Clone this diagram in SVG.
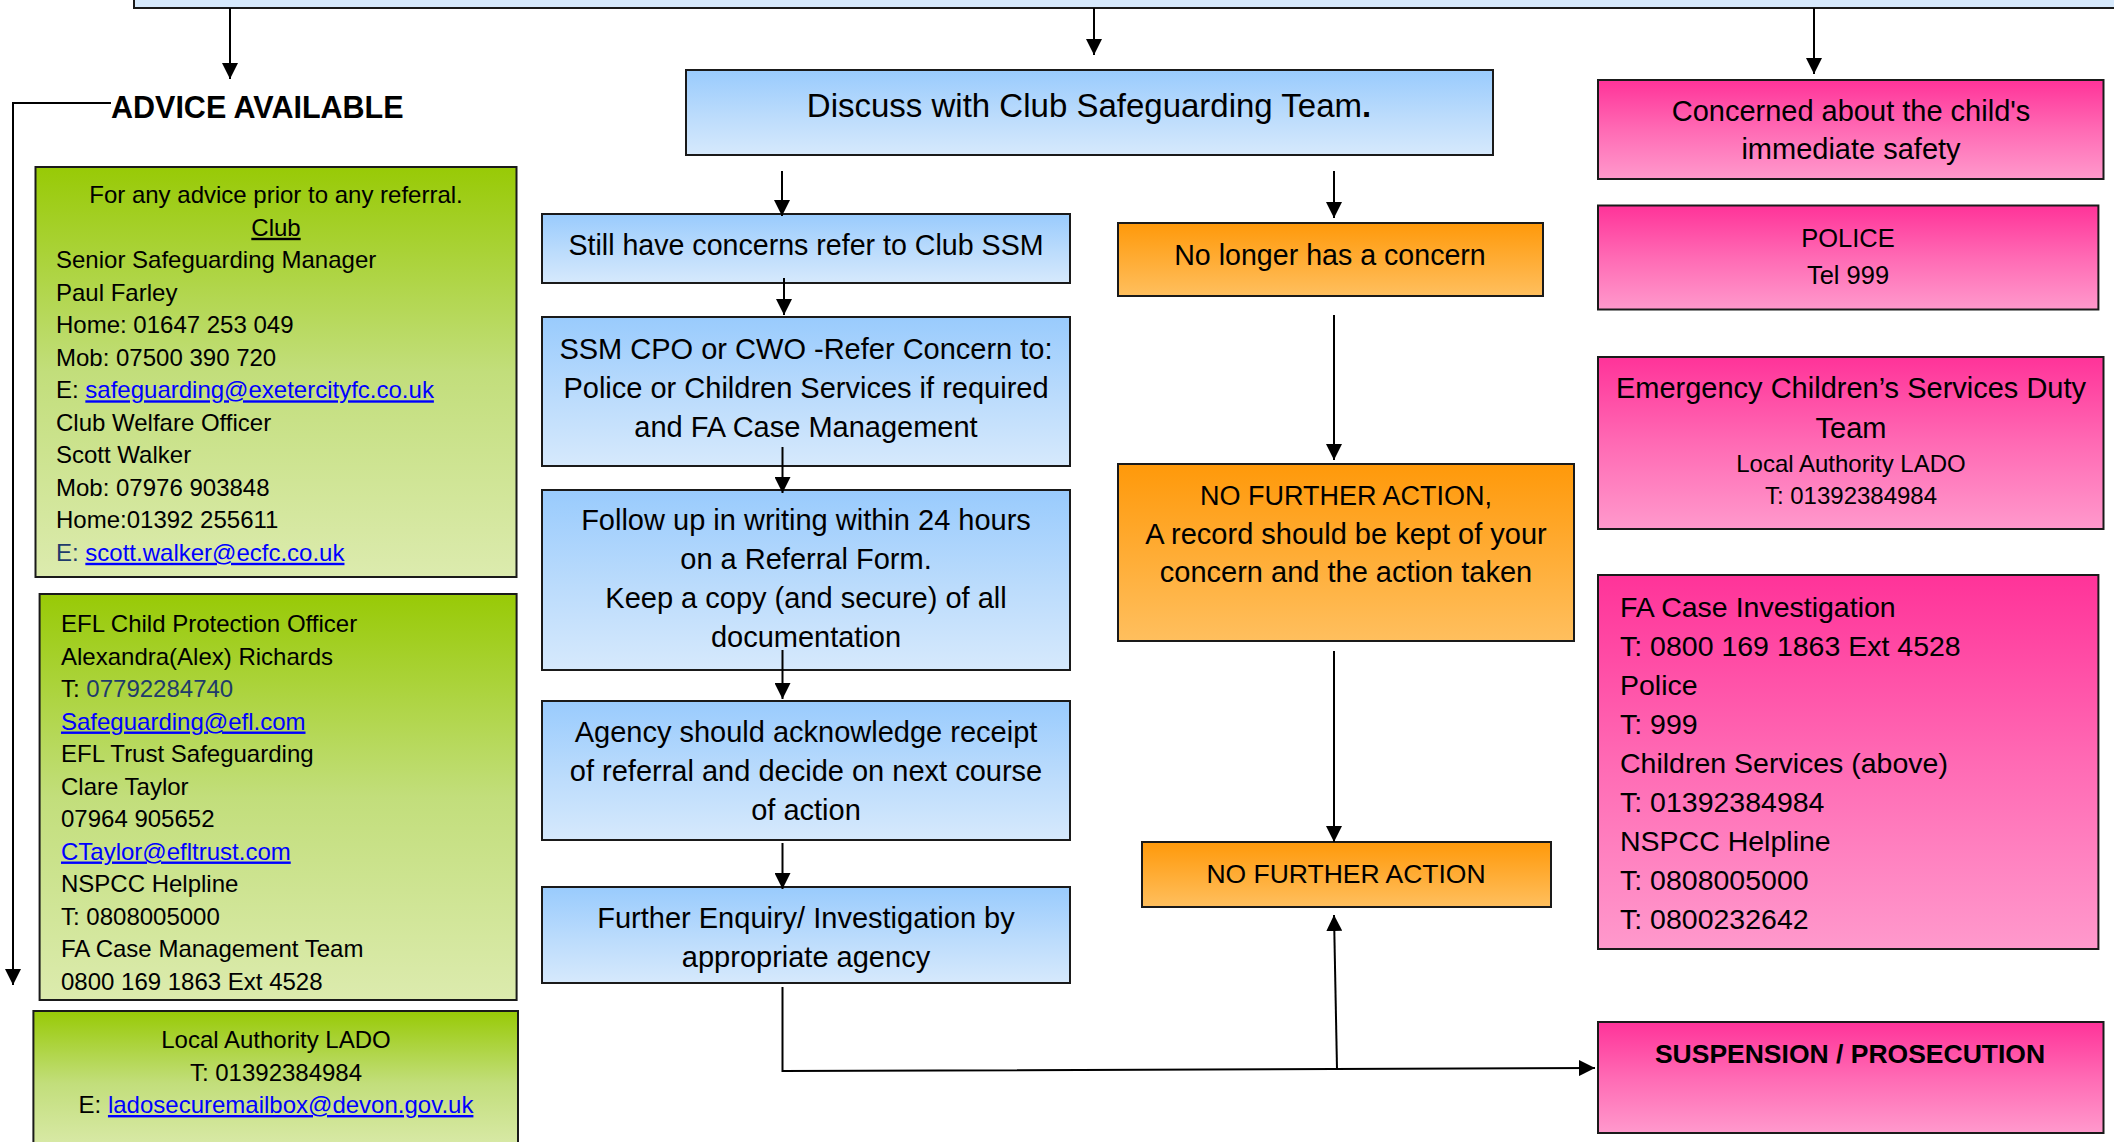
<svg xmlns="http://www.w3.org/2000/svg" width="2114" height="1142" viewBox="0 0 2114 1142">
<defs>
<linearGradient id="gGreen" x1="0" y1="0" x2="0" y2="1"><stop offset="0" stop-color="#98ca06"/><stop offset="0.5" stop-color="#c2de7b"/><stop offset="1" stop-color="#dcebae"/></linearGradient>
<linearGradient id="gBlue" x1="0" y1="0" x2="0" y2="1"><stop offset="0" stop-color="#99cbfd"/><stop offset="0.55" stop-color="#bcdcfc"/><stop offset="1" stop-color="#d6e9fc"/></linearGradient>
<linearGradient id="gOrange" x1="0" y1="0" x2="0" y2="1"><stop offset="0" stop-color="#ff990a"/><stop offset="1" stop-color="#ffbf5e"/></linearGradient>
<linearGradient id="gPink" x1="0" y1="0" x2="0" y2="1"><stop offset="0" stop-color="#ff3399"/><stop offset="0.5" stop-color="#ff6ab4"/><stop offset="1" stop-color="#ff99cc"/></linearGradient>
<marker id="ah" markerUnits="userSpaceOnUse" markerWidth="16" markerHeight="16" refX="16" refY="8" orient="auto"><path d="M0,0 L16,8 L0,16 z" fill="#000"/></marker>
</defs>
<style>
.box{stroke:#1a1a1a;stroke-width:2}
.green{fill:url(#gGreen)}
.blue{fill:url(#gBlue)}
.orange{fill:url(#gOrange)}
.pink{fill:url(#gPink)}
text{font-family:"Liberation Sans",Arial,sans-serif;fill:#000}
.b{font-size:24px}
.l{font-size:29px}
.c{text-anchor:middle}
.lnk{fill:#0000ff;text-decoration:underline}
.dk{fill:#1f3b6b}
.conn{fill:none;stroke:#000;stroke-width:2}
</style>

<g id="top-box"><rect class="box" x="134" y="-20" width="2000" height="28" fill="#d6e9fc"/></g>

<g id="advice-title"><text x="111" y="118" font-size="30.5" font-weight="bold">ADVICE AVAILABLE</text></g>

<g id="club-advice">
<rect class="box green" x="35.5" y="167" width="481" height="410"/>
<text class="b c" x="276" y="203.3">For any advice prior to any referral.</text>
<text class="b c" x="276" y="235.8" text-decoration="underline">Club</text>
<text class="b" x="56" y="268.3">Senior Safeguarding Manager</text>
<text class="b" x="56" y="300.8">Paul Farley</text>
<text class="b" x="56" y="333.3">Home: 01647 253 049</text>
<text class="b" x="56" y="365.8">Mob: 07500 390 720</text>
<text class="b" x="56" y="398.3">E: <tspan class="lnk">safeguarding@exetercityfc.co.uk</tspan></text>
<text class="b" x="56" y="430.8">Club Welfare Officer</text>
<text class="b" x="56" y="463.3">Scott Walker</text>
<text class="b" x="56" y="495.8">Mob: 07976 903848</text>
<text class="b" x="56" y="528.3">Home:01392 255611</text>
<text class="b" x="56" y="560.8"><tspan class="dk">E: </tspan><tspan class="lnk">scott.walker@ecfc.co.uk</tspan></text>
</g>

<g id="efl-advice">
<rect class="box green" x="39.6" y="594" width="477" height="406"/>
<text class="b" x="61" y="632">EFL Child Protection Officer</text>
<text class="b" x="61" y="664.5">Alexandra(Alex) Richards</text>
<text class="b" x="61" y="697">T: <tspan class="dk">07792284740</tspan></text>
<text class="b lnk" x="61" y="729.5">Safeguarding@efl.com</text>
<text class="b" x="61" y="762">EFL Trust Safeguarding</text>
<text class="b" x="61" y="794.5">Clare Taylor</text>
<text class="b" x="61" y="827">07964 905652</text>
<text class="b lnk" x="61" y="859.5">CTaylor@efltrust.com</text>
<text class="b" x="61" y="892">NSPCC Helpline</text>
<text class="b" x="61" y="924.5">T: 0808005000</text>
<text class="b" x="61" y="957">FA Case Management Team</text>
<text class="b" x="61" y="989.5">0800 169 1863 Ext 4528</text>
</g>

<g id="lado-advice">
<rect class="box green" x="33.4" y="1011" width="484.6" height="145"/>
<text class="b c" x="276" y="1048">Local Authority LADO</text>
<text class="b c" x="276" y="1080.5">T: 01392384984</text>
<text class="b c" x="276" y="1113">E: <tspan class="lnk">ladosecuremailbox@devon.gov.uk</tspan></text>
</g>

<g id="discuss">
<rect class="box blue" x="686" y="70" width="807" height="85"/>
<text class="c" x="1089" y="116.7" font-size="33">Discuss with Club Safeguarding Team<tspan font-weight="bold">.</tspan></text>
</g>

<g id="still-concerns">
<rect class="box blue" x="542" y="214" width="528" height="69"/>
<text class="c" x="806" y="255" font-size="28.6">Still have concerns refer to Club SSM</text>
</g>

<g id="ssm-refer">
<rect class="box blue" x="542" y="317" width="528" height="149"/>
<text class="l c" x="806" y="359">SSM CPO or CWO -Refer Concern to:</text>
<text class="l c" x="806" y="398">Police or Children Services if required</text>
<text class="l c" x="806" y="437">and FA Case Management</text>
</g>

<g id="follow-up">
<rect class="box blue" x="542" y="490" width="528" height="180"/>
<text class="l c" x="806" y="530">Follow up in writing within 24 hours</text>
<text class="l c" x="806" y="569">on a Referral Form.</text>
<text class="l c" x="806" y="608">Keep a copy (and secure) of all</text>
<text class="l c" x="806" y="647">documentation</text>
</g>

<g id="agency">
<rect class="box blue" x="542" y="701" width="528" height="139"/>
<text class="l c" x="806" y="742">Agency should acknowledge receipt</text>
<text class="l c" x="806" y="781">of referral and decide on next course</text>
<text class="l c" x="806" y="820">of action</text>
</g>

<g id="further-enquiry">
<rect class="box blue" x="542" y="887" width="528" height="96"/>
<text class="l c" x="806" y="928">Further Enquiry/ Investigation by</text>
<text class="l c" x="806" y="967">appropriate agency</text>
</g>

<g id="no-longer">
<rect class="box orange" x="1118" y="223" width="425" height="73"/>
<text class="c" x="1330" y="265" font-size="28.6">No longer has a concern</text>
</g>

<g id="nfa-record">
<rect class="box orange" x="1118" y="464" width="456" height="177"/>
<text class="c" x="1346" y="505" font-size="27">NO FURTHER ACTION,</text>
<text class="l c" x="1346" y="544">A record should be kept of your</text>
<text class="l c" x="1346" y="582">concern and the action taken</text>
</g>

<g id="nfa">
<rect class="box orange" x="1142" y="842" width="409" height="65"/>
<text class="c" x="1346" y="883" font-size="26.5">NO FURTHER ACTION</text>
</g>

<g id="immediate-safety">
<rect class="box pink" x="1598" y="80" width="505.5" height="99"/>
<text class="l c" x="1851" y="120.5">Concerned about the child's</text>
<text class="l c" x="1851" y="159">immediate safety</text>
</g>

<g id="police">
<rect class="box pink" x="1598" y="205.5" width="500.4" height="104"/>
<text class="c" x="1848" y="246.5" font-size="25.5">POLICE</text>
<text class="c" x="1848" y="284" font-size="25.5">Tel 999</text>
</g>

<g id="emergency">
<rect class="box pink" x="1598" y="357" width="505.5" height="172"/>
<text class="l c" x="1851" y="398">Emergency Children’s Services Duty</text>
<text class="l c" x="1851" y="437.5">Team</text>
<text class="b c" x="1851" y="472">Local Authority LADO</text>
<text class="b c" x="1851" y="504">T: 01392384984</text>
</g>

<g id="fa-case">
<rect class="box pink" x="1598" y="575" width="500.4" height="374"/>
<text font-size="28.5" x="1620" y="617">FA Case Investigation</text>
<text font-size="28.5" x="1620" y="656">T: 0800 169 1863 Ext 4528</text>
<text font-size="28.5" x="1620" y="695">Police</text>
<text font-size="28.5" x="1620" y="734">T: 999</text>
<text font-size="28.5" x="1620" y="773">Children Services (above)</text>
<text font-size="28.5" x="1620" y="812">T: 01392384984</text>
<text font-size="28.5" x="1620" y="851">NSPCC Helpline</text>
<text font-size="28.5" x="1620" y="890">T: 0808005000</text>
<text font-size="28.5" x="1620" y="928.5">T: 0800232642</text>
</g>

<g id="suspension">
<rect class="box pink" x="1598" y="1022" width="505.5" height="111"/>
<text class="c" x="1850" y="1063" font-size="26.5" font-weight="bold">SUSPENSION / PROSECUTION</text>
</g>

<g id="connectors">
<path class="conn" d="M230,8 V79" marker-end="url(#ah)"/>
<path class="conn" d="M1094,8 V55" marker-end="url(#ah)"/>
<path class="conn" d="M1814,8 V74" marker-end="url(#ah)"/>
<path class="conn" d="M111,103 H13 V985" marker-end="url(#ah)"/>
<path class="conn" d="M782,171 V216" marker-end="url(#ah)"/>
<path class="conn" d="M1334,171 V218" marker-end="url(#ah)"/>
<path class="conn" d="M784,278 V315" marker-end="url(#ah)"/>
<path class="conn" d="M782.5,447 V493" marker-end="url(#ah)"/>
<path class="conn" d="M782.5,650 V699" marker-end="url(#ah)"/>
<path class="conn" d="M782.5,843 V889" marker-end="url(#ah)"/>
<path class="conn" d="M1334,315 V460" marker-end="url(#ah)"/>
<path class="conn" d="M1334,651 V842" marker-end="url(#ah)"/>
<path class="conn" d="M782.5,987 V1071 L1595,1068" marker-end="url(#ah)"/>
<path class="conn" d="M1337,1069 L1334,915" marker-end="url(#ah)"/>
</g>
</svg>
